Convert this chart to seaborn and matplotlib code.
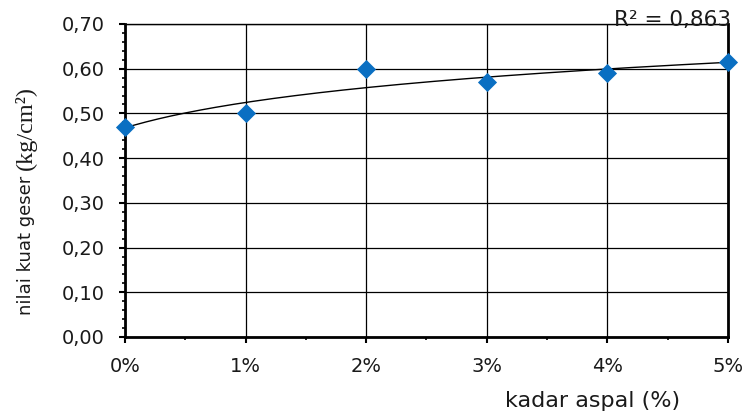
import numpy as np
import pandas as pd
import matplotlib
matplotlib.use("Agg")
import matplotlib.pyplot as plt
from matplotlib.ticker import MultipleLocator, FuncFormatter
import seaborn as sns

# asphalt content (%) and measured shear strength (kg/cm2)
kadar_aspal = [0, 1, 2, 3, 4, 5]
kuat_geser = [0.47, 0.50, 0.60, 0.57, 0.59, 0.615]
x_tick_labels = ["0%", "1%", "2%", "3%", "4%", "5%"]
r2_label = "R\u00b2 = 0,863"

sns.set_theme(style="white")
plt.rcParams["font.family"] = ["DejaVu Sans"]

df = pd.DataFrame({"kadar": kadar_aspal, "geser": kuat_geser})

# logarithmic trend over point index (1..n), as a spreadsheet trendline would
idx = np.arange(1, len(kadar_aspal) + 1)
slope, intercept = np.polyfit(np.log(idx), np.array(kuat_geser), 1)
xs = np.linspace(1, len(kadar_aspal), 200)
trend = pd.DataFrame({"kadar": xs - 1, "geser": slope * np.log(xs) + intercept})

fig = plt.figure(figsize=(7.44, 4.12), dpi=100)
ax = fig.add_axes([125 / 744, 1 - 337 / 412, (728 - 125) / 744, (337 - 24) / 412])

ax.grid(True, which="major", color="black", linewidth=0.9)
ax.set_axisbelow(True)

sns.lineplot(data=trend, x="kadar", y="geser", ax=ax, color="black", linewidth=1.0)
sns.scatterplot(data=df, x="kadar", y="geser", ax=ax, marker="D", s=95,
                color="#0a6fc2", edgecolor="#0a6fc2", linewidth=0, zorder=5, clip_on=False)

ax.set_xlim(0, 5)
ax.set_ylim(0, 0.70)
ax.xaxis.set_major_locator(MultipleLocator(1))
ax.xaxis.set_minor_locator(MultipleLocator(0.5))
ax.yaxis.set_major_locator(MultipleLocator(0.10))
ax.yaxis.set_minor_locator(MultipleLocator(0.02))
ax.set_xticks(kadar_aspal)
ax.set_xticklabels(x_tick_labels)
ax.yaxis.set_major_formatter(FuncFormatter(lambda v, p: f"{v:.2f}".replace(".", ",")))

ax.tick_params(axis="both", which="major", direction="out", length=4.5, width=1.5,
               color="black", labelsize=14, labelcolor="#1a1a1a")
ax.tick_params(axis="both", which="minor", direction="out", length=2.5, width=1.2, color="black")
ax.tick_params(axis="x", which="major", pad=10)
ax.tick_params(axis="y", which="major", pad=10)
ax.tick_params(axis="both", which="both", bottom=True, left=True, top=False, right=False)

for side, lw in (("left", 2.0), ("bottom", 2.0), ("right", 2.0), ("top", 1.0)):
    ax.spines[side].set_visible(True)
    ax.spines[side].set_color("black")
    ax.spines[side].set_linewidth(lw)

ax.set_xlabel("")
ax.set_ylabel("")

fig.text(593 / 744, 1 - 401 / 412, "kadar aspal (%)", ha="center", va="center",
         fontsize=16, color="#1a1a1a")

# y-axis title: sans-serif words followed by the unit in a serif face
t1 = fig.text(26 / 744, 1 - 315 / 412, "nilai kuat geser ", rotation=90,
              ha="center", va="bottom", fontsize=13, color="#1a1a1a")
ax.annotate("(kg/cm\u00b2)", xy=(0.5, 1.0), xycoords=t1, rotation=90,
            ha="center", va="bottom", fontsize=17.5, color="#1a1a1a",
            family=["Liberation Serif", "DejaVu Serif"])

fig.text(672 / 744, 1 - 20 / 412, r2_label, ha="center", va="center",
         fontsize=15.5, color="#1a1a1a")

fig.savefig("out.png", dpi=100, facecolor="white")
